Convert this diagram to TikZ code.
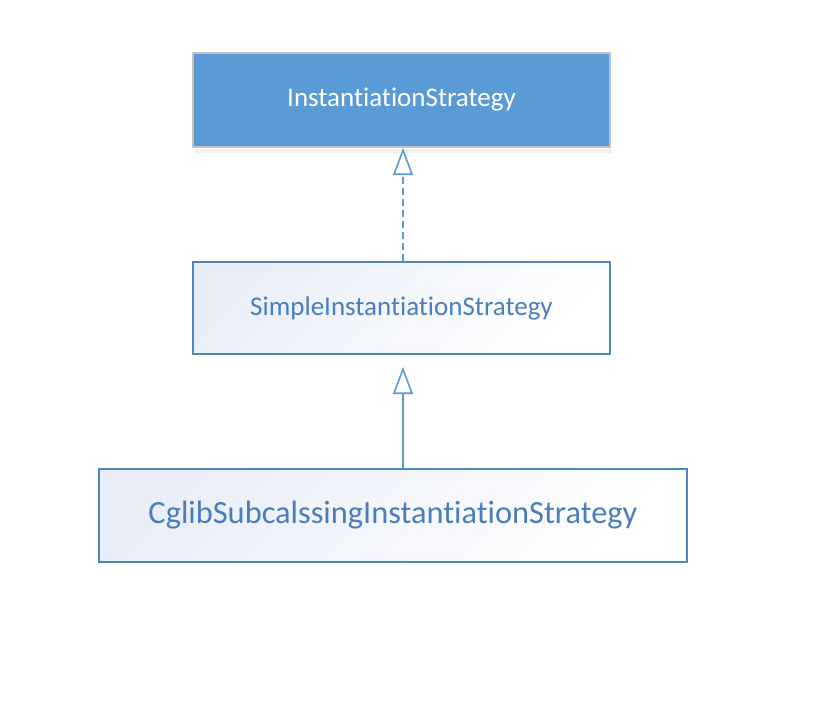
\documentclass[tikz,border=0pt]{standalone}
\usepackage{fontspec}
\setmainfont[Ligatures=NoCommon,RawFeature=-liga]{Carlito}
\usetikzlibrary{arrows.meta}
\definecolor{topfill}{HTML}{5B9BD5}
\definecolor{topedge}{HTML}{C3C3C3}
\definecolor{boxedge}{HTML}{4F88C0}
\definecolor{boxtext}{HTML}{4A7EBB}
\definecolor{shadeA}{HTML}{E9EEF8}
\definecolor{linkcol}{HTML}{5B9BD5}
\tikzset{
  topbox/.style={draw=topedge, line width=2pt, fill=topfill, text=white,
    font=\fontsize{27}{32}\selectfont, inner sep=0pt},
  classbox/.style={draw=boxedge, line width=2pt, top color=shadeA, bottom color=white,
    shading angle=45, text=boxtext, inner sep=0pt},
  realize/.style={draw=linkcol, line width=2pt, dashed, dash pattern=on 7pt off 4pt,
    -{Triangle[open, length=27pt, width=20pt, line width=1.6pt]}},
  inherit/.style={draw=linkcol, line width=2pt,
    -{Triangle[open, length=27pt, width=20pt, line width=1.6pt]}},
}
\begin{document}
\begin{tikzpicture}[x=1pt, y=-1pt]
\useasboundingbox (0,0) rectangle (838,716);
\fill[white] (0,0) rectangle (838,716);
% shadow under top box
\fill[black!6] (195,149) rectangle (612,153);
\node[topbox, minimum width=417pt, minimum height=94pt] (istrat) at (401.5,100) {InstantiationStrategy};
\node[classbox, minimum width=417pt, minimum height=92pt, font=\fontsize{27}{32}\selectfont] (simple) at (401.5,308) {SimpleInstantiationStrategy};
\node[classbox, minimum width=588pt, minimum height=93pt, font=\fontsize{32.4}{38}\selectfont] (cglib) at (393,515.5) {CglibSubcalssingInstantiationStrategy};
\draw[realize] ([xshift=1.5pt]simple.north) -- ([xshift=1.5pt]istrat.south);
\draw[inherit, shorten >=12pt] (cglib.north -| 403,0) -- ([xshift=1.5pt]simple.south);
\end{tikzpicture}
\end{document}
